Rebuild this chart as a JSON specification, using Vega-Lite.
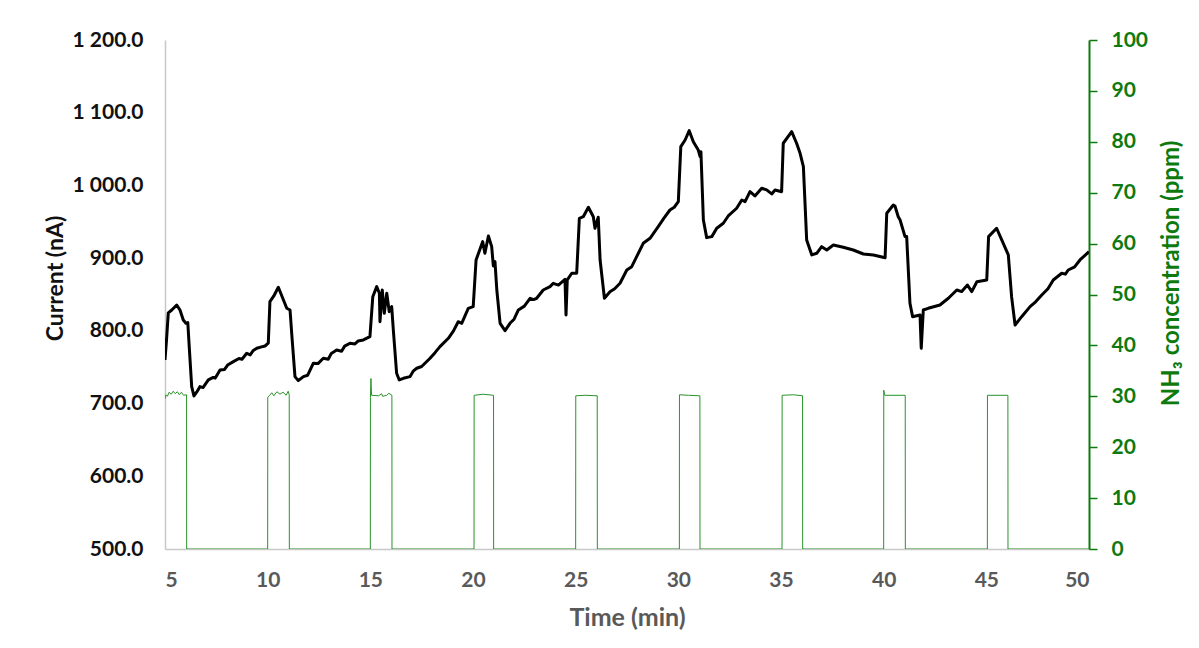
{
  "$schema": "https://vega.github.io/schema/vega-lite/v6.json",
  "width": 924,
  "height": 509,
  "autosize": {"type": "none"},
  "padding": {"left": 165, "top": 40, "right": 110, "bottom": 99},
  "background": "white",
  "config": {"view": {"stroke": null}, "font": "Lato"},
  "datasets": {
    "current": [
      {"t": 5.0, "nA": 760}, {"t": 5.08, "nA": 790}, {"t": 5.16, "nA": 824.6}, {"t": 5.33, "nA": 828.7},
      {"t": 5.57, "nA": 835.6}, {"t": 5.73, "nA": 828.7}, {"t": 5.89, "nA": 815}, {"t": 6.02, "nA": 810.5},
      {"t": 6.11, "nA": 811.3}, {"t": 6.18, "nA": 778.3}, {"t": 6.3, "nA": 723.3}, {"t": 6.41, "nA": 710.5},
      {"t": 6.55, "nA": 716}, {"t": 6.7, "nA": 723.3}, {"t": 6.85, "nA": 722}, {"t": 7.11, "nA": 732.5},
      {"t": 7.35, "nA": 736}, {"t": 7.45, "nA": 735}, {"t": 7.68, "nA": 746.2}, {"t": 7.9, "nA": 747},
      {"t": 8.05, "nA": 753}, {"t": 8.33, "nA": 757.7}, {"t": 8.6, "nA": 762}, {"t": 8.75, "nA": 761},
      {"t": 8.98, "nA": 769.2}, {"t": 9.15, "nA": 767}, {"t": 9.3, "nA": 773}, {"t": 9.47, "nA": 776.1},
      {"t": 9.7, "nA": 778}, {"t": 9.87, "nA": 779.2}, {"t": 10.03, "nA": 783},
      {"t": 10.11, "nA": 840.2}, {"t": 10.3, "nA": 848}, {"t": 10.52, "nA": 860}, {"t": 10.93, "nA": 831.1}, {"t": 11.09, "nA": 828.7},
      {"t": 11.17, "nA": 796.7}, {"t": 11.33, "nA": 737}, {"t": 11.49, "nA": 731.5}, {"t": 11.74, "nA": 737},
      {"t": 11.95, "nA": 739}, {"t": 12.22, "nA": 755.4}, {"t": 12.45, "nA": 755}, {"t": 12.71, "nA": 762.3},
      {"t": 12.95, "nA": 761}, {"t": 13.1, "nA": 769}, {"t": 13.36, "nA": 773.7}, {"t": 13.6, "nA": 772},
      {"t": 13.75, "nA": 779}, {"t": 14.01, "nA": 783}, {"t": 14.25, "nA": 782}, {"t": 14.4, "nA": 786},
      {"t": 14.66, "nA": 787.5}, {"t": 14.98, "nA": 792}, {"t": 15.12, "nA": 847}, {"t": 15.31, "nA": 860.8},
      {"t": 15.44, "nA": 851.7}, {"t": 15.47, "nA": 812.6}, {"t": 15.58, "nA": 856.2}, {"t": 15.68, "nA": 824.2},
      {"t": 15.8, "nA": 851.7}, {"t": 15.92, "nA": 826.4}, {"t": 16.04, "nA": 833.3}, {"t": 16.12, "nA": 801.2},
      {"t": 16.28, "nA": 741.7}, {"t": 16.41, "nA": 732.5}, {"t": 16.61, "nA": 734.8}, {"t": 16.93, "nA": 737},
      {"t": 17.1, "nA": 745}, {"t": 17.26, "nA": 748.6}, {"t": 17.5, "nA": 751}, {"t": 17.91, "nA": 762.3},
      {"t": 18.15, "nA": 770}, {"t": 18.39, "nA": 778.3}, {"t": 18.8, "nA": 789.8}, {"t": 19.05, "nA": 800},
      {"t": 19.28, "nA": 812.6}, {"t": 19.45, "nA": 810.4}, {"t": 19.77, "nA": 831}, {"t": 20.01, "nA": 833.3},
      {"t": 20.15, "nA": 897.5}, {"t": 20.47, "nA": 922.7}, {"t": 20.58, "nA": 906.7}, {"t": 20.75, "nA": 930.5},
      {"t": 20.91, "nA": 915.8}, {"t": 20.99, "nA": 889.2}, {"t": 21.07, "nA": 895.2}, {"t": 21.16, "nA": 856.2},
      {"t": 21.32, "nA": 810.4}, {"t": 21.56, "nA": 800.3}, {"t": 21.8, "nA": 810.4}, {"t": 22.0, "nA": 816},
      {"t": 22.21, "nA": 828.7}, {"t": 22.5, "nA": 834}, {"t": 22.78, "nA": 844.8}, {"t": 22.95, "nA": 843},
      {"t": 23.1, "nA": 844.8}, {"t": 23.42, "nA": 856.2}, {"t": 23.75, "nA": 860.8},
      {"t": 23.91, "nA": 865.4}, {"t": 24.16, "nA": 863}, {"t": 24.48, "nA": 870.9}, {"t": 24.53, "nA": 821.9},
      {"t": 24.59, "nA": 870}, {"t": 24.81, "nA": 879.2}, {"t": 25.05, "nA": 879.2}, {"t": 25.18, "nA": 954.8},
      {"t": 25.37, "nA": 957}, {"t": 25.62, "nA": 970}, {"t": 25.86, "nA": 957}, {"t": 25.94, "nA": 941.1},
      {"t": 26.1, "nA": 956.2}, {"t": 26.19, "nA": 897.5}, {"t": 26.4, "nA": 844.8}, {"t": 26.67, "nA": 853.9},
      {"t": 26.9, "nA": 858}, {"t": 27.16, "nA": 865.4}, {"t": 27.49, "nA": 883.7}, {"t": 27.73, "nA": 888.3}, {"t": 27.97, "nA": 902},
      {"t": 28.29, "nA": 920.4}, {"t": 28.62, "nA": 927.3}, {"t": 29.02, "nA": 943.3}, {"t": 29.3, "nA": 955},
      {"t": 29.59, "nA": 966.2}, {"t": 29.8, "nA": 970},
      {"t": 30.0, "nA": 977.7}, {"t": 30.12, "nA": 1053.3}, {"t": 30.33, "nA": 1062.5}, {"t": 30.53, "nA": 1075.3},
      {"t": 30.73, "nA": 1060.2}, {"t": 30.97, "nA": 1048.7}, {"t": 31.06, "nA": 1039.5}, {"t": 31.1, "nA": 1046.4},
      {"t": 31.22, "nA": 952.5}, {"t": 31.38, "nA": 928.2}, {"t": 31.63, "nA": 929.6}, {"t": 31.87, "nA": 941.1},
      {"t": 32.19, "nA": 948}, {"t": 32.43, "nA": 958}, {"t": 32.84, "nA": 968.6}, {"t": 33.09, "nA": 980},
      {"t": 33.25, "nA": 977.7}, {"t": 33.49, "nA": 991.4}, {"t": 33.73, "nA": 985.5}, {"t": 34.06, "nA": 996.1},
      {"t": 34.3, "nA": 993.8}, {"t": 34.55, "nA": 988.3}, {"t": 34.71, "nA": 993.8}, {"t": 35.03, "nA": 991.4},
      {"t": 35.11, "nA": 1058}, {"t": 35.52, "nA": 1073.9}, {"t": 35.76, "nA": 1058}, {"t": 35.93, "nA": 1044.2},
      {"t": 36.09, "nA": 1025.8}, {"t": 36.25, "nA": 925}, {"t": 36.5, "nA": 904.4}, {"t": 36.74, "nA": 906.7},
      {"t": 36.98, "nA": 915.8}, {"t": 37.23, "nA": 911.2}, {"t": 37.55, "nA": 918.1}, {"t": 38.03, "nA": 914.9},
      {"t": 38.52, "nA": 911.2}, {"t": 39.01, "nA": 905.7}, {"t": 39.5, "nA": 904.4}, {"t": 40.07, "nA": 900.6},
      {"t": 40.15, "nA": 961.7}, {"t": 40.47, "nA": 973.1}, {"t": 40.55, "nA": 971.7}, {"t": 40.71, "nA": 957},
      {"t": 40.8, "nA": 952.5}, {"t": 41.04, "nA": 929.6}, {"t": 41.12, "nA": 929.6}, {"t": 41.28, "nA": 837.9},
      {"t": 41.41, "nA": 819.5}, {"t": 41.77, "nA": 821.8}, {"t": 41.83, "nA": 776}, {"t": 41.93, "nA": 828.7},
      {"t": 42.17, "nA": 831}, {"t": 42.74, "nA": 835.6}, {"t": 43.15, "nA": 844.8}, {"t": 43.56, "nA": 856.2},
      {"t": 43.8, "nA": 854}, {"t": 44.08, "nA": 863.1}, {"t": 44.29, "nA": 854}, {"t": 44.54, "nA": 867.6},
      {"t": 45.02, "nA": 870}, {"t": 45.11, "nA": 929.6}, {"t": 45.5, "nA": 941.1}, {"t": 45.75, "nA": 925},
      {"t": 46.07, "nA": 904.4}, {"t": 46.23, "nA": 847}, {"t": 46.4, "nA": 808.1}, {"t": 46.72, "nA": 819.5},
      {"t": 47.13, "nA": 833.3}, {"t": 47.4, "nA": 840}, {"t": 47.7, "nA": 849.4}, {"t": 48.0, "nA": 858},
      {"t": 48.26, "nA": 870}, {"t": 48.67, "nA": 879.2}, {"t": 48.85, "nA": 878},
      {"t": 48.99, "nA": 883.7}, {"t": 49.3, "nA": 888}, {"t": 49.56, "nA": 897.5}, {"t": 50.0, "nA": 908.9}
    ],
    "nh3": [
      {"t": 5.0, "ppm": 29.5}, {"t": 5.05, "ppm": 30.3}, {"t": 5.12, "ppm": 30.0}, {"t": 5.2, "ppm": 30.8},
      {"t": 5.3, "ppm": 30.4}, {"t": 5.4, "ppm": 31.0}, {"t": 5.5, "ppm": 30.5}, {"t": 5.6, "ppm": 30.9},
      {"t": 5.7, "ppm": 30.3}, {"t": 5.8, "ppm": 30.8}, {"t": 5.9, "ppm": 30.2}, {"t": 6.05, "ppm": 30.3},
      {"t": 6.055, "ppm": 0}, {"t": 10.0, "ppm": 0},
      {"t": 10.005, "ppm": 29.8}, {"t": 10.1, "ppm": 30.2}, {"t": 10.2, "ppm": 30.7}, {"t": 10.3, "ppm": 30.1},
      {"t": 10.45, "ppm": 30.9}, {"t": 10.6, "ppm": 30.4}, {"t": 10.75, "ppm": 30.8}, {"t": 10.9, "ppm": 30.2},
      {"t": 11.0, "ppm": 31.0}, {"t": 11.05, "ppm": 30.3}, {"t": 11.055, "ppm": 0}, {"t": 15.0, "ppm": 0},
      {"t": 15.005, "ppm": 29.8}, {"t": 15.03, "ppm": 33.5}, {"t": 15.06, "ppm": 30.2}, {"t": 15.4, "ppm": 30.1},
      {"t": 15.55, "ppm": 30.5}, {"t": 15.6, "ppm": 30.0}, {"t": 15.8, "ppm": 30.2}, {"t": 15.9, "ppm": 30.6},
      {"t": 16.05, "ppm": 30.2}, {"t": 16.055, "ppm": 0}, {"t": 20.05, "ppm": 0},
      {"t": 20.055, "ppm": 30.2}, {"t": 20.5, "ppm": 30.4}, {"t": 21.0, "ppm": 30.2}, {"t": 21.005, "ppm": 0},
      {"t": 25.0, "ppm": 0}, {"t": 25.005, "ppm": 30.1}, {"t": 25.5, "ppm": 30.2}, {"t": 26.05, "ppm": 30.1},
      {"t": 26.055, "ppm": 0}, {"t": 30.05, "ppm": 0}, {"t": 30.055, "ppm": 30.3}, {"t": 30.5, "ppm": 30.2},
      {"t": 31.05, "ppm": 30.1}, {"t": 31.055, "ppm": 0}, {"t": 35.05, "ppm": 0}, {"t": 35.055, "ppm": 30.2},
      {"t": 35.6, "ppm": 30.3}, {"t": 36.05, "ppm": 30.1}, {"t": 36.055, "ppm": 0}, {"t": 40.0, "ppm": 0},
      {"t": 40.005, "ppm": 31.2}, {"t": 40.05, "ppm": 30.2}, {"t": 41.05, "ppm": 30.2}, {"t": 41.055, "ppm": 0},
      {"t": 45.05, "ppm": 0}, {"t": 45.055, "ppm": 30.2}, {"t": 46.05, "ppm": 30.2}, {"t": 46.055, "ppm": 0},
      {"t": 50.0, "ppm": 0}
    ]
  },
  "layer": [
    {
      "data": {"name": "nh3"},
      "mark": {"type": "line", "color": "#2a932a", "strokeWidth": 1, "clip": true},
      "encoding": {
        "x": {
          "field": "t", "type": "quantitative",
          "scale": {"domain": [5, 50], "nice": false, "zero": false},
          "axis": {
            "values": [5, 10, 15, 20, 25, 30, 35, 40, 45, 50],
            "title": "Time (min)",
            "grid": false, "ticks": false,
            "domainColor": "#c8c8c8", "domainWidth": 1.5,
            "labelFont": "Lato", "labelFontSize": 21, "labelFontWeight": "bold", "labelColor": "#595959", "labelPadding": 20,
            "titleFont": "Lato", "titleFontSize": 25, "titleFontWeight": "bold", "titleColor": "#595959", "titlePadding": 15
          }
        },
        "y": {
          "field": "ppm", "type": "quantitative",
          "scale": {"domain": [0, 100], "nice": false},
          "axis": {
            "orient": "right",
            "values": [0, 10, 20, 30, 40, 50, 60, 70, 80, 90, 100],
            "title": "NH₃ concentration (ppm)",
            "grid": false,
            "domainColor": "#0e7a0e", "domainWidth": 2,
            "tickColor": "#0e7a0e", "tickWidth": 1.5, "tickSize": 8,
            "labelFont": "Lato", "labelFontSize": 21, "labelFontWeight": "bold", "labelColor": "#0e7a0e", "labelPadding": 14,
            "titleFont": "Lato", "titleFontSize": 24, "titleFontWeight": "bold", "titleColor": "#0e7a0e",
            "titleAngle": -90, "titleAlign": "center", "titleBaseline": "middle", "titleX": 82, "titleY": 233
          }
        }
      }
    },
    {
      "data": {"name": "current"},
      "mark": {"type": "line", "color": "#000000", "strokeWidth": 3, "strokeJoin": "round", "clip": true},
      "encoding": {
        "x": {"field": "t", "type": "quantitative"},
        "y": {
          "field": "nA", "type": "quantitative",
          "scale": {"domain": [500, 1200], "nice": false, "zero": false},
          "axis": {
            "orient": "left",
            "values": [500, 600, 700, 800, 900, 1000, 1100, 1200],
            "labelExpr": "replace(format(datum.value, ',.1f'), ',', ' ')",
            "title": "Current (nA)",
            "grid": false, "ticks": false,
            "domainColor": "#c8c8c8", "domainWidth": 1.5,
            "labelFont": "Lato", "labelFontSize": 21, "labelFontWeight": "bold", "labelColor": "#111111", "labelPadding": 22,
            "titleFont": "Lato", "titleFontSize": 23, "titleFontWeight": "bold", "titleColor": "#111111",
            "titleAngle": -90, "titleAlign": "center", "titleBaseline": "middle", "titleX": -110, "titleY": 238
          }
        }
      }
    }
  ],
  "resolve": {"scale": {"y": "independent"}}
}
